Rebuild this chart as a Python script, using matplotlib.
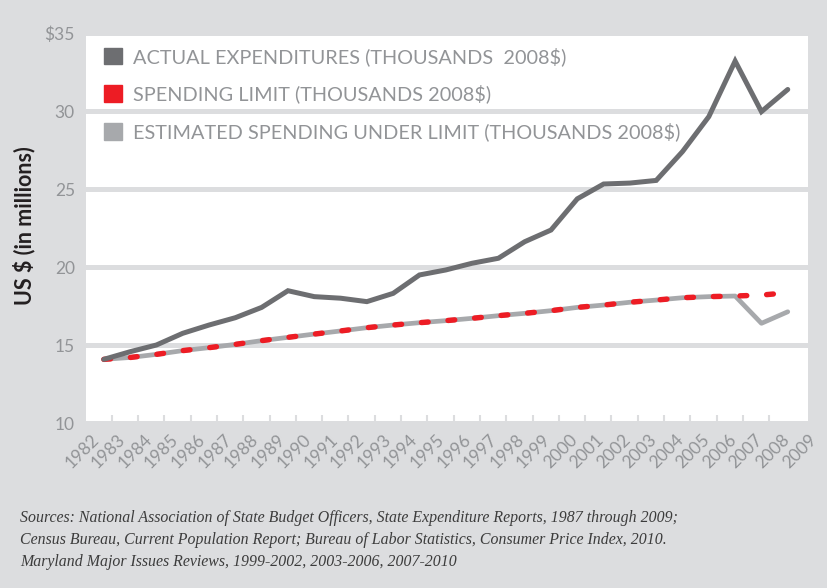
import numpy as np
import matplotlib
matplotlib.use('Agg')
import matplotlib.pyplot as plt
from matplotlib.patches import Patch

# 数据
tick_years = [str(y) for y in range(1982, 2010)]
actual = [14.08, 14.57, 15.0, 15.75, 16.28, 16.75, 17.41, 18.48, 18.1, 18.0,
          17.78, 18.31, 19.49, 19.81, 20.24, 20.56, 21.62, 22.37, 24.37, 25.32,
          25.38, 25.55, 27.4, 29.64, 33.2, 29.96, 31.38]
limit = [14.08, 14.2, 14.4, 14.64, 14.83, 15.04, 15.28, 15.49, 15.7, 15.9,
         16.11, 16.28, 16.43, 16.56, 16.71, 16.88, 17.03, 17.2, 17.41, 17.56,
         17.74, 17.88, 18.03, 18.1, 18.14, 18.2, 18.35]
estimated = limit[:25] + [16.39, 17.13]
legend_labels = ['ACTUAL EXPENDITURES (THOUSANDS  2008$)',
                 'SPENDING LIMIT (THOUSANDS 2008$)',
                 'ESTIMATED SPENDING UNDER LIMIT (THOUSANDS 2008$)']
y_ticks = [10, 15, 20, 25, 30, 35]
y_ticklabels = ['10', '15', '20', '25', '30', '$35']

BG = '#dcdddf'
C_ACT = '#6d6e71'
C_RED = '#ed1c24'
C_EST = '#a7a9ac'
C_TXT = '#929497'

plt.rcParams['font.family'] = ['Lato', 'DejaVu Sans']

W, H = 828, 588
fig = plt.figure(figsize=(W / 100, H / 100), dpi=100, facecolor=BG)
ax = fig.add_axes([86 / W, 1 - 423 / H, (808 - 86) / W, (423 - 33) / H])
ax.set_facecolor('white')

x = np.arange(len(actual))
ax.plot(x, estimated, color=C_EST, lw=3.4, solid_capstyle='round', zorder=3)
red, = ax.plot(x, limit, color=C_RED, lw=3.9, dash_capstyle='round', zorder=4)
red.set_dashes([1.25, 3.67])
ax.plot(x, actual, color=C_ACT, lw=3.6, solid_capstyle='round',
        solid_joinstyle='miter', zorder=5)

ax.set_xlim(-0.677, 26.49)
ax.set_ylim(10, 35)

# 网格线（与背景同色）
ax.set_yticks(y_ticks)
ax.set_yticklabels(y_ticklabels)
ax.yaxis.grid(True, color=BG, lw=3.6)
ax.set_axisbelow(True)
ax.tick_params(axis='y', length=0, pad=8, labelsize=12.5, labelcolor=C_TXT)

# x 轴：小刻度做刻度线，大刻度只放标签
ax.set_xticks([i + 0.3 for i in range(26)], minor=True)
ax.set_xticks([i * 1.01 - 0.5 for i in range(len(tick_years))])
ax.set_xticklabels(tick_years, rotation=45, ha='right', va='top',
                   rotation_mode='anchor')
ax.tick_params(axis='x', which='major', length=0, pad=6, labelsize=12.5,
               labelcolor=C_TXT)
ax.tick_params(axis='x', which='minor', direction='in', length=5.5, width=1.5,
               color=BG)
for s in ax.spines.values():
    s.set_visible(False)

ax.set_ylabel('US $ (in millions)', fontsize=15.5, fontweight='bold',
              color='#231f20')
ax.yaxis.set_label_coords((35 - 86) / 722, 0.505)

handles = [Patch(color=c) for c in (C_ACT, C_RED, C_EST)]
fig.legend(handles, legend_labels, loc='upper left',
           bbox_to_anchor=(104 / W, 1 - 47 / H), frameon=False,
           fontsize=14.3, labelcolor=C_TXT, handlelength=0.9, handleheight=0.9,
           handletextpad=0.55, labelspacing=0.95, borderpad=0, borderaxespad=0)

src = ('Sources: National Association of State Budget Officers, State Expenditure Reports, 1987 through 2009;\n'
       'Census Bureau, Current Population Report; Bureau of Labor Statistics, Consumer Price Index, 2010.\n'
       'Maryland Major Issues Reviews, 1999-2002, 2003-2006, 2007-2010')
fig.text(20 / W, 1 - 510 / H, src, ha='left', va='top', fontsize=11.4,
         family=['Liberation Serif'], style='italic', color='#3c3c3c',
         linespacing=1.5)

fig.savefig('out.png', dpi=100, facecolor=BG)
